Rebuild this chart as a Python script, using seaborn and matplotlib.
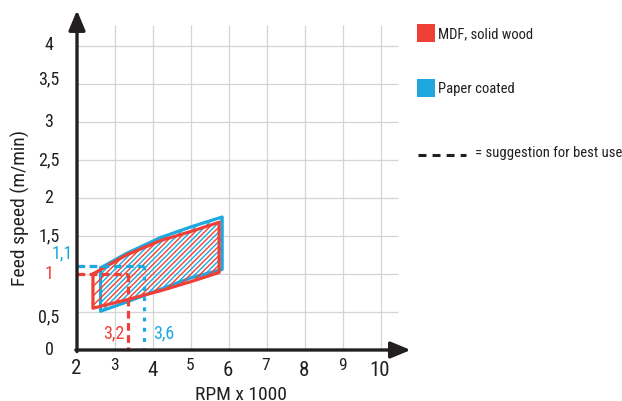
import numpy as np
import pandas as pd
import matplotlib
matplotlib.use('Agg')
import matplotlib.pyplot as plt
import matplotlib.transforms as mtransforms
from matplotlib.patches import Polygon, Rectangle
from matplotlib.lines import Line2D
import seaborn as sns

# --- data ---
rpm_ticks = [2, 3, 4, 5, 6, 7, 8, 9, 10]
speed_ticks = [0, 0.5, 1, 1.5, 2, 2.5, 3, 3.5, 4]
speed_labels = ['0', '0,5', '1', '1,5', '2', '2,5', '3', '3,5', '4']

mdf_rpm = [2.42, 3.3, 4.2, 5.0, 5.74]
mdf_top = [1.00, 1.25, 1.44, 1.56, 1.68]
mdf_bottom = [0.55, 0.66, 0.78, 0.90, 1.02]

paper_rpm = [2.62, 3.3, 4.2, 5.0, 5.82]
paper_top = [1.08, 1.27, 1.48, 1.62, 1.75]
paper_bottom = [0.51, 0.63, 0.80, 0.95, 1.06]

best_rpm = [3.35, 3.75]          # where the dashed guides are drawn
best_speed = [1.0, 1.1]
best_rpm_labels = ['3,2', '3,6']
best_speed_labels = ['1', '1,1']

RED = '#ee4036'
BLUE = '#1ea8df'
INK = '#231f20'
GRID = '#d4d4d4'

sns.set_theme(style='white')
plt.rcParams['font.family'] = ['Roboto Condensed', 'Liberation Sans Narrow', 'DejaVu Sans']

W, H = 622, 401
fig = plt.figure(figsize=(W / 100, H / 100), dpi=100)


def fpos(x, y):
    # pixel position in the picture -> figure fraction
    return x / W, 1 - y / H


# axes: x=2 at px 77, 38 px per 1000 rpm; y=0 at px 350, 76 px per m/min
ax = fig.add_axes([77 / W, (H - 350) / H, 338 / W, 342 / H])
ax.set_xlim(2, 2 + 338 / 38)
ax.set_ylim(0, 342 / 76)
ax.axis('off')


def dots(dx, dy):
    return mtransforms.offset_copy(ax.transData, fig=fig, x=dx, y=-dy, units='dots')


# grid
ax.vlines(rpm_ticks[1:], 0, 4.28, color=GRID, lw=0.9, zorder=1)
ax.hlines(speed_ticks[1:], 2, 10.45, color=GRID, lw=0.9, zorder=1)

# axes with arrow heads
arrow = dict(arrowstyle='-|>,head_length=0.6,head_width=0.25', lw=2.4,
             color=INK, mutation_scale=20, shrinkA=0, shrinkB=0)
ax.annotate('', xy=(10.78, 0), xytext=(1.97, 0), arrowprops=arrow,
            annotation_clip=False, zorder=6)
ax.annotate('', xy=(2, 4.47), xytext=(2, -0.02), arrowprops=arrow,
            annotation_clip=False, zorder=6)

# tick labels (the original has them slightly staggered)
x_size = [15, 12.5, 15, 12.5, 15, 12.5, 15, 12.5, 15]
x_dy = [19, 16, 20, 16, 20, 15, 20, 16, 20]
for v, s, dy in zip(rpm_ticks, x_size, x_dy):
    ax.text(v, 0, str(v), transform=dots(-1, dy), ha='center', va='center',
            fontsize=s, color=INK)

y_dy = [0, -5, 0, 0, 0, 0, 0, 5, 1]
for v, lab, dy in zip(speed_ticks, speed_labels, y_dy):
    col = RED if lab == best_speed_labels[0] else INK
    ax.text(2, v, lab, transform=dots(-28, -dy), ha='center', va='center',
            fontsize=13, color=col)

# slope of 45 degree hatch lines in data units
p0 = ax.transData.transform((2, 0))
p1 = ax.transData.transform((3, 1))
slope = (p1[0] - p0[0]) / (p1[1] - p0[1])


def band(rpm, top, bottom, color, phase, z):
    df = pd.DataFrame({
        'rpm': list(rpm) + list(rpm)[::-1] + [rpm[0]],
        'speed': list(top) + list(bottom)[::-1] + [top[0]],
    })
    poly = Polygon(df[['rpm', 'speed']].values, closed=True, fill=False,
                   lw=0, transform=ax.transData)
    ax.add_patch(poly)
    xs = np.array([1.5, 6.5])
    for c in np.arange(-2, 6, 0.25) + phase:
        ln, = ax.plot(xs, slope * (xs - c), color=color, lw=1.0, zorder=z)
        ln.set_clip_path(poly)
    sns.lineplot(data=df, x='rpm', y='speed', sort=False, estimator=None,
                 color=color, lw=2.3, ax=ax, zorder=z + 1)


band(paper_rpm, paper_top, paper_bottom, BLUE, 0.125, 3)
band(mdf_rpm, mdf_top, mdf_bottom, RED, 0.0, 4)
ax.set_xlim(2, 2 + 338 / 38)
ax.set_ylim(0, 342 / 76)
ax.axis('off')

# suggested working point guides
guide_dash = [(2.4, 1.4), (1.2, 2.0)]
for r, s, col, d in zip(best_rpm, best_speed, [RED, BLUE], guide_dash):
    ax.plot([2, r], [s, s], color=col, lw=2.3, dashes=(2.4, 1.4), zorder=5)
    ax.plot([r, r], [s, 0], color=col, lw=2.3, dashes=d, zorder=5)

ax.text(best_rpm[0], 0, best_rpm_labels[0], transform=dots(-4, -17), ha='right',
        va='center', fontsize=13, color=RED)
ax.text(best_rpm[1], 0, best_rpm_labels[1], transform=dots(10, -17), ha='left',
        va='center', fontsize=13, color=BLUE)
ax.text(2, best_speed[1], best_speed_labels[1], transform=dots(-15, -13), ha='center',
        va='center', fontsize=13, color=BLUE)

# axis titles
fig.text(*fpos(20, 208), 'Feed speed (m/min)', rotation=90, ha='center', va='center',
         fontsize=14, color=INK)
fig.text(*fpos(241, 395), 'RPM x 1000', ha='center', va='center', fontsize=14, color=INK)

# legend
for y, col, lab in [(24, RED, 'MDF, solid wood'), (79, BLUE, 'Paper coated')]:
    x0, y0 = fpos(417, y + 18)
    fig.add_artist(Rectangle((x0, y0), 18 / W, 18 / H, transform=fig.transFigure,
                             facecolor=col, edgecolor='none'))
    fig.text(*fpos(438, y + 10), lab, ha='left', va='center', fontsize=10.5, color=INK)

lx0, ly = fpos(418, 155)
lx1, _ = fpos(466, 155)
fig.add_artist(Line2D([lx0, lx1], [ly, ly], transform=fig.transFigure, color=INK,
                      lw=2.2, dashes=(2.6, 2.0)))
fig.text(*fpos(475, 153), '= suggestion for best use', ha='left', va='center',
         fontsize=10.5, color=INK)

fig.savefig('out.png', dpi=100)
